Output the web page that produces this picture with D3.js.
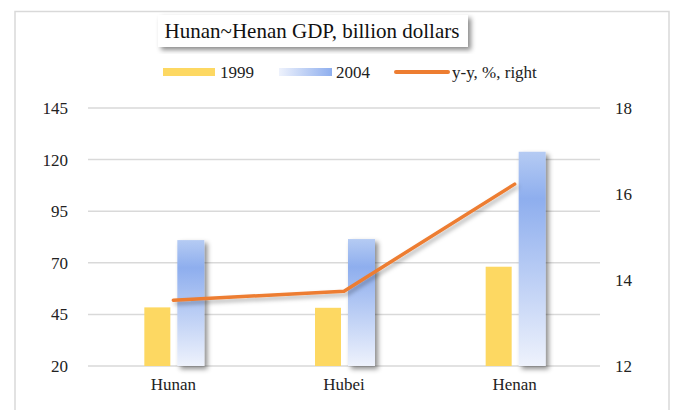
<!DOCTYPE html>
<html><head><meta charset="utf-8">
<script src="https://cdn.jsdelivr.net/npm/d3@7"></script>
<style>body{margin:0;background:#fff}svg{display:block}
text{font-family:'Liberation Serif','Times New Roman',serif !important;}</style>
</head><body>
<script>
const categories = ["Hunan", "Hubei", "Henan"];
const gdp1999 = [48.4, 48.2, 68.1];
const gdp2004 = [81.0, 81.5, 123.8];
const yoy = [13.53, 13.74, 16.23];
const leftTicks = [20, 45, 70, 95, 120, 145];
const rightTicks = [12, 14, 16, 18];
const seriesNames = ["1999", "2004", "y-y, %, right"];
const title = "Hunan~Henan GDP, billion dollars";

const W = 677, H = 410;
const svg = d3.select("body").append("svg").attr("width", W).attr("height", H);
const defs = svg.append("defs");
const g1 = defs.append("linearGradient").attr("id","blueGrad").attr("x1",0).attr("y1",0).attr("x2",0).attr("y2",1);
g1.append("stop").attr("offset","0%").attr("stop-color","#b5cbf3");
g1.append("stop").attr("offset","22%").attr("stop-color","#8eaeee");
g1.append("stop").attr("offset","100%").attr("stop-color","#eef2fc");
const g2 = defs.append("linearGradient").attr("id","blueLeg").attr("x1",0).attr("y1",0).attr("x2",1).attr("y2",0);
g2.append("stop").attr("offset","0%").attr("stop-color","#eef2fc");
g2.append("stop").attr("offset","100%").attr("stop-color","#8eaeee");
const sh = defs.append("filter").attr("id","shadow").attr("x","-30%").attr("y","-10%").attr("width","180%").attr("height","130%");
sh.append("feDropShadow").attr("dx",3).attr("dy",3).attr("stdDeviation",2.5).attr("flood-color","#000").attr("flood-opacity",0.45);
const sh2 = defs.append("filter").attr("id","lshadow").attr("x","-10%").attr("y","-30%").attr("width","120%").attr("height","160%");
sh2.append("feDropShadow").attr("dx",2).attr("dy",3).attr("stdDeviation",2).attr("flood-color","#000").attr("flood-opacity",0.3);

// frame
svg.append("rect").attr("x",15).attr("y",11.5).attr("width",654).attr("height",420)
  .attr("fill","#fff").attr("stroke","#d9d9d9").attr("stroke-width",1.5);

const x0 = d3.scaleBand().domain(categories).range([88, 600]);
const yL = d3.scaleLinear().domain([20, 145]).range([366, 108]);
const yR = d3.scaleLinear().domain([12, 18]).range([366, 108]);

// grid
svg.append("g").selectAll("line").data(leftTicks).join("line")
  .attr("x1",88).attr("x2",600).attr("y1",d=>yL(d)).attr("y2",d=>yL(d))
  .attr("stroke","#d9d9d9").attr("stroke-width",1.5);

// axes
const axL = svg.append("g").attr("transform","translate(88,0)")
  .call(d3.axisLeft(yL).tickValues(leftTicks).tickSize(0).tickPadding(20));
const axR = svg.append("g").attr("transform","translate(600,0)")
  .call(d3.axisRight(yR).tickValues(rightTicks).tickFormat(d3.format("d")).tickSize(0).tickPadding(15));
const axB = svg.append("g").attr("transform","translate(0,366)")
  .call(d3.axisBottom(x0).tickSize(0).tickPadding(12));
[axL, axR, axB].forEach(a => {
  a.select(".domain").remove();
  a.attr("font-family", null).attr("font-size", null);
  a.selectAll("text").style("font-size","17px").attr("fill","#222");
});

// bars
const bw = 26, gap = 7;
const bars = svg.append("g");
bars.selectAll("rect.y").data(categories).join("rect").attr("class","y")
  .attr("x",(d)=>x0(d)+x0.bandwidth()/2 - bw - gap/2 + 0.5)
  .attr("y",(d,i)=>yL(gdp1999[i])).attr("width",bw)
  .attr("height",(d,i)=>yL(20)-yL(gdp1999[i])).attr("fill","#fdd862");
bars.selectAll("rect.b").data(categories).join("rect").attr("class","b")
  .attr("x",(d)=>x0(d)+x0.bandwidth()/2 + gap/2 + 0.5)
  .attr("y",(d,i)=>yL(gdp2004[i])).attr("width",bw+1)
  .attr("height",(d,i)=>yL(20)-yL(gdp2004[i])).attr("fill","url(#blueGrad)")
  .attr("filter","url(#shadow)");

// line
const line = d3.line().x((d,i)=>x0(categories[i])+x0.bandwidth()/2).y(d=>yR(d));
svg.append("path").datum(yoy).attr("d",line).attr("fill","none")
  .attr("stroke","#ed7d31").attr("stroke-width",3.5).attr("stroke-linecap","round")
  .attr("filter","url(#lshadow)");

// title
const tb = svg.append("g");
tb.append("rect").attr("x",158).attr("y",15).attr("width",310).attr("height",32)
  .attr("fill","#fff").attr("filter","url(#shadow)");
tb.append("text").attr("x",312).attr("y",38).attr("text-anchor","middle")
  .style("font-size","21px").attr("fill","#111").text(title);

// legend
const lg = svg.append("g").style("font-size","17px").attr("fill","#222");
lg.append("rect").attr("x",163).attr("y",68).attr("width",52).attr("height",8).attr("fill","#fdd862");
lg.append("text").attr("x",220).attr("y",78).text(seriesNames[0]);
lg.append("rect").attr("x",279).attr("y",68).attr("width",53).attr("height",8).attr("fill","url(#blueLeg)");
lg.append("text").attr("x",336).attr("y",78).text(seriesNames[1]);
lg.append("line").attr("x1",396).attr("x2",448).attr("y1",72).attr("y2",72)
  .attr("stroke","#ed7d31").attr("stroke-width",4).attr("stroke-linecap","round");
lg.append("text").attr("x",452).attr("y",78).text(seriesNames[2]);
</script>
</body></html>
